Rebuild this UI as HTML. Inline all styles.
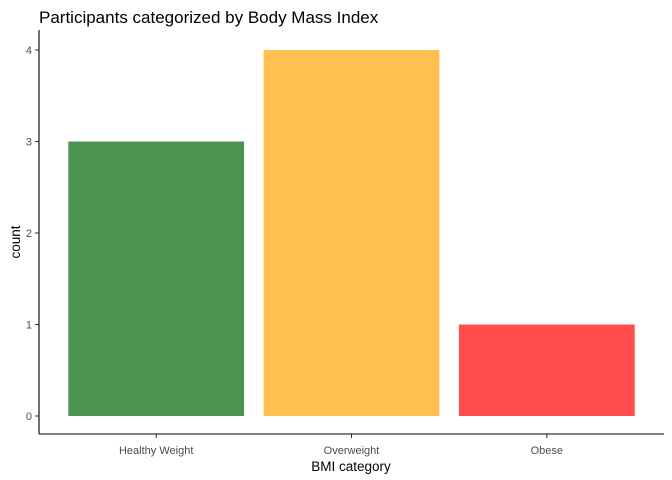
<!DOCTYPE html>
<html><head><meta charset="utf-8"><style>
body{margin:0;background:#fff;}
svg{display:block;font-family:"Liberation Sans",sans-serif;}
</style></head><body>
<svg id="chart" width="672" height="480">
<text x="39" y="23" font-size="17" fill="#000">Participants categorized by Body Mass Index</text>
<g id="bars"></g>
<g id="axes"></g>
<text x="351" y="471" font-size="13.5" text-anchor="middle" fill="#000">BMI category</text>
<text transform="translate(20,242) rotate(-90)" font-size="13.5" text-anchor="middle" fill="#000">count</text>
</svg>
<script>
const categories = ["Healthy Weight","Overweight","Obese"];
const counts = [3,4,1];
const colors = ["#4f9350","#ffc04f","#ff4c4c"];
const yTicks = [0,1,2,3,4];

const ns="http://www.w3.org/2000/svg";
const left=39,right=664,bottom=434;
const y0=416,yPerUnit=91.5;
function yScale(v){return y0-v*yPerUnit;}
const unit=(right-left)/(categories.length-1+1.2);
function xCenter(i){return left+(i+0.6)*unit;}
const bw=0.9*unit;
function mk(tag,attrs,parent){const e=document.createElementNS(ns,tag);for(const k in attrs)e.setAttribute(k,attrs[k]);parent.appendChild(e);return e;}
const bars=document.getElementById('bars'),axes=document.getElementById('axes');
categories.forEach((c,i)=>{
  const r=mk('rect',{x:xCenter(i)-bw/2,y:yScale(counts[i]),width:bw,height:yScale(0)-yScale(counts[i]),fill:colors[i]},bars);
  
  
  const t=mk('line',{x1:xCenter(i),x2:xCenter(i),y1:bottom,y2:bottom+4,stroke:'#333','stroke-width':1},axes);
  
  
  const l=mk('text',{x:xCenter(i),y:bottom+20,'font-size':11,'text-anchor':'middle',fill:'#4d4d4d'},axes);
  l.textContent=c;
  
  
});
yTicks.forEach(v=>{
  const t=mk('line',{x1:left-4,x2:left,y1:yScale(v),y2:yScale(v),stroke:'#333','stroke-width':1},axes);
  
  
  const l=mk('text',{x:left-7,y:yScale(v)+4,'font-size':11,'text-anchor':'end',fill:'#4d4d4d'},axes);
  l.textContent=v;
  
  
});
const xa=mk('line',{x1:left,x2:right,y1:bottom,y2:bottom,stroke:'#000','stroke-width':1.1},axes);


const ya=mk('line',{x1:left,x2:left,y1:30,y2:bottom,stroke:'#000','stroke-width':1.1},axes);


</script>
</body></html>
